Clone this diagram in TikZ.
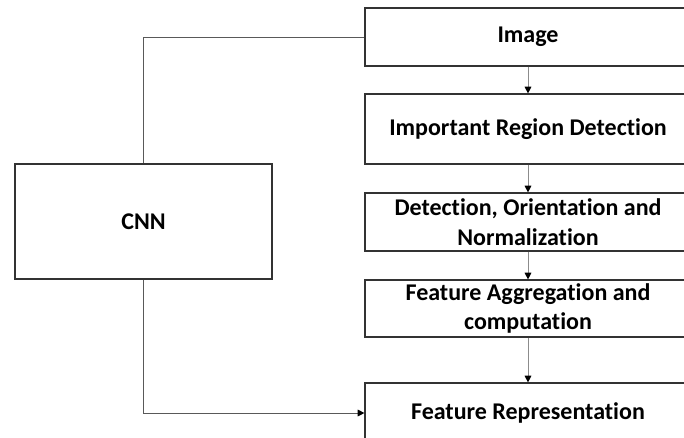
\documentclass[tikz,border=0pt]{standalone}
\usepackage{fontspec}
\setmainfont[Ligatures=CommonOff]{Carlito}
\usetikzlibrary{arrows.meta}
\begin{document}
\begin{tikzpicture}[x=0.75pt, y=-0.75pt, line join=miter, font=\fontsize{18}{22}\selectfont\bfseries, >={Triangle[black, length=5pt, width=5pt]}]
	\tikzset{box/.style={draw=black!80, line width=0.9pt, inner sep=0pt, align=center, minimum width=244.5pt},
		step arrow/.style={->, draw=black!45, line width=0.75pt},
		side line/.style={draw=black!65, line width=0.75pt}}
	\useasboundingbox (0,0) rectangle (684,437);
	\clip (0,0) rectangle (684,437);
	% pipeline on the right
	\node[box, minimum height=43.5pt] (image) at (528,37) {Image};
	\node[box, minimum height=52.5pt] (region) at (528,129) {Important Region Detection};
	\node[box, minimum height=43.5pt] (norm) at (528,222) {Detection, Orientation and\\Normalization};
	\node[box, minimum height=42.75pt] (aggr) at (528,308.5) {Feature Aggregation and\\computation};
	\node[box, minimum height=45pt] (repr) at (528,413) {Feature Representation};
	% shortcut
	\node[box, minimum width=192.75pt, minimum height=86.25pt] (cnn) at (143.5,221.5) {CNN};
	\draw[step arrow] (image) -- (region);
	\draw[step arrow] (region) -- (norm);
	\draw[step arrow] (norm) -- (aggr);
	\draw[step arrow] (aggr) -- (repr);
	\draw[side line] (cnn.north) |- (image.west);
	\draw[side line, ->] (cnn.south) |- (repr.west);
\end{tikzpicture}
\end{document}
